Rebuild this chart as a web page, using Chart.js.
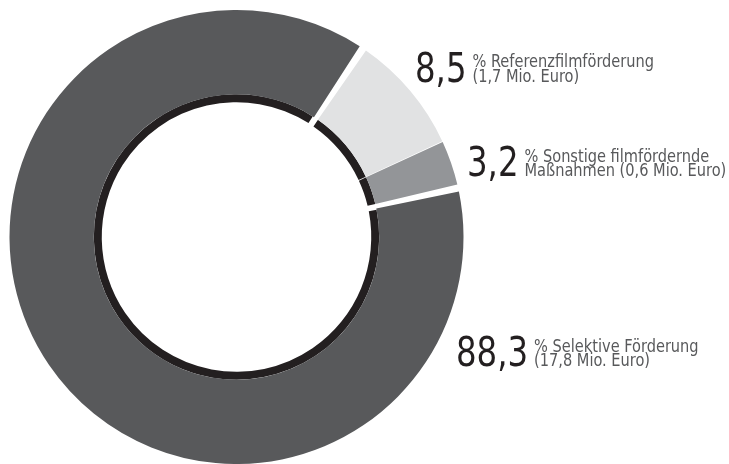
<!DOCTYPE html>
<html lang="de">
<head>
  <meta charset="UTF-8" />
  <title>Förderung nach Bereichen</title>
  <script src="https://cdn.jsdelivr.net/npm/chart.js"></script>
  <style>
    html, body { margin: 0; padding: 0; background: #fff; }
    .wrap { position: relative; width: 729px; height: 464px; }
  </style>
</head>
<body>
<div class="wrap">
  <canvas id="pie"></canvas>
</div>
<script>
  // Daten
  const categories = ["Referenzfilmförderung", "Sonstige filmfördernde Maßnahmen", "Selektive Förderung"];
  const shares = [8.5, 3.2, 88.3];
  const shareLabels = ["8,5", "3,2", "88,3"];
  const textLine1 = ["% Referenzfilmförderung", "% Sonstige filmfördernde", "% Selektive Förderung"];
  const textLine2 = ["(1,7 Mio. Euro)", "Maßnahmen (0,6 Mio. Euro)", "(17,8 Mio. Euro)"];

  const colors = ["#e1e2e3", "#939598", "#58595b"];
  const ringColor = "#231f20";
  const FONT = "'DejaVu Sans Condensed', 'DejaVu Sans', sans-serif";
  const SQUEEZE = 0.9; // schmalere Schrift nachbilden

  // Lage der Beschriftungen (links, Grundlinie Zeile 1)
  const labelPos = [
    { x: 415, y: 67 },
    { x: 467, y: 161.5 },
    { x: 456, y: 351.5 }
  ];

  function squeezed(ctx, text, x, y) {
    ctx.save();
    ctx.translate(x, y);
    ctx.scale(SQUEEZE, 1);
    ctx.fillText(text, 0, 0);
    ctx.restore();
    return ctx.measureText(text).width * SQUEEZE;
  }

  const labelPlugin = {
    id: "labels",
    afterDraw(chart) {
      const ctx = chart.ctx;
      ctx.save();
      ctx.textBaseline = "alphabetic";
      labelPos.forEach((p, i) => {
        ctx.font = "40px " + FONT;
        ctx.fillStyle = "#231f20";
        const w = squeezed(ctx, shareLabels[i], p.x, p.y + 14.5);
        ctx.font = "18px " + FONT;
        ctx.fillStyle = "#58595b";
        squeezed(ctx, textLine1[i], p.x + w + 6, p.y);
        squeezed(ctx, textLine2[i], p.x + w + 6, p.y + 14.5);
      });
      ctx.restore();
    }
  };

  new Chart(document.getElementById("pie"), {
    type: "doughnut",
    data: {
      labels: categories,
      datasets: [
        {
          data: shares,
          backgroundColor: colors,
          borderWidth: 0,
          spacing: 4,
          weight: 85
        },
        {
          data: shares,
          backgroundColor: ringColor,
          borderWidth: 0,
          spacing: 4,
          weight: 8
        }
      ]
    },
    options: {
      responsive: true,
      maintainAspectRatio: false,
      animation: false,
      rotation: 34.6,
      cutout: "59%",
      layout: { padding: { left: 9.5, right: 265.5, top: 10, bottom: 0 } },
      plugins: {
        legend: { display: false },
        tooltip: { enabled: false }
      }
    },
    plugins: [labelPlugin]
  });
</script>
</body>
</html>
